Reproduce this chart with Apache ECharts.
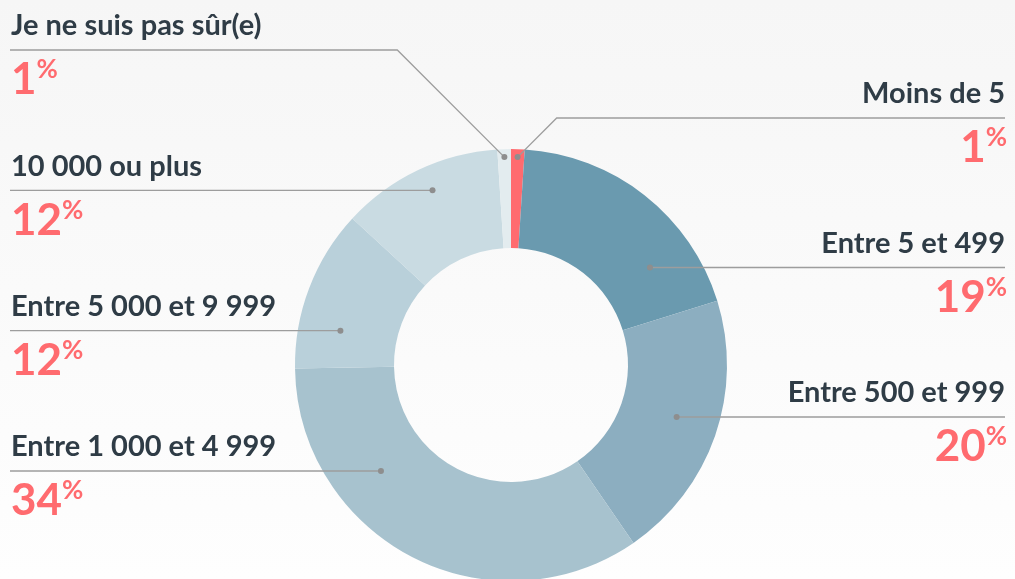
<!DOCTYPE html>
<html>
<head>
<meta charset="utf-8">
<script src="https://cdn.jsdelivr.net/npm/echarts@6/dist/echarts.min.js"></script>
<style>
  html, body { margin: 0; padding: 0; background: #f7f7f7; }
  #chart { width: 1015px; height: 579px; }
</style>
</head>
<body>
<div id="chart"></div>
<script>
// Survey answers, in clockwise order starting at 12 o'clock
const categories = [
  'Moins de 5',
  'Entre 5 et 499',
  'Entre 500 et 999',
  'Entre 1 000 et 4 999',
  'Entre 5 000 et 9 999',
  '10 000 ou plus',
  'Je ne suis pas sûr(e)'
];
const shares = [1, 19, 20, 34, 12, 12, 1];

// Styling
const sliceColors = ['#ff6b6f', '#6a9aaf', '#8caec0', '#a7c2ce', '#b9d0da', '#c9dbe2', '#e3ecef'];
const ACCENT = '#ff6b6f';
const INK = '#2f3c46';
const RULE = '#9d9d9d';
const FONT = 'Lato, "Noto Sans", sans-serif';

// Donut geometry (pixels)
const CX = 511, CY = 365, R_IN = 117, R_OUT = 216;
// Label columns
const LEFT_X = 11, RIGHT_X = 1005;
const LEFT_TOP = 50, LEFT_BOTTOM = 471;
const RIGHT_TOP = 118, RIGHT_BOTTOM = 417;
// Where the dot sits along the part of the rule that crosses its slice (0 = inner end, 1 = outer end)
const DOT_POS = 0.58;

// Angular extent of each slice, degrees clockwise from 12 o'clock
const total = shares.reduce((a, b) => a + b, 0);
const arcs = [];
let acc = 0;
shares.forEach((v) => {
  const start = acc / total * 360;
  acc += v;
  const end = acc / total * 360;
  arcs.push({ start, end, mid: (start + end) / 2 });
});

// Stack labels on each side of the ring, evenly spaced
const ruleY = new Array(shares.length);
const side = arcs.map(a => (a.mid < 180 ? 1 : -1));
const rightIdx = arcs.map((a, i) => i).filter(i => side[i] > 0).sort((a, b) => arcs[a].mid - arcs[b].mid);
const leftIdx = arcs.map((a, i) => i).filter(i => side[i] < 0).sort((a, b) => arcs[b].mid - arcs[a].mid);
function spread(idx, top, bottom) {
  const step = idx.length > 1 ? (bottom - top) / (idx.length - 1) : 0;
  idx.forEach((i, k) => { ruleY[i] = top + k * step; });
}
spread(rightIdx, RIGHT_TOP, RIGHT_BOTTOM);
spread(leftIdx, LEFT_TOP, LEFT_BOTTOM);

// Connector for each label: a horizontal rule that ends on a dot inside the slice,
// or, when the rule passes above the ring, a 45° leader down to the slice rim.
function connector(i) {
  const s = side[i];
  const y = ruleY[i];
  const dy = y - CY;
  const a = arcs[i];
  let dMin = null, dMax = null;
  for (let d = 0; d <= R_OUT; d += 0.5) {
    const r = Math.hypot(d, dy);
    if (r < R_IN || r > R_OUT) continue;
    let ang = Math.atan2(s * d, -dy) * 180 / Math.PI;
    if (ang < 0) ang += 360;
    if (ang >= a.start && ang <= a.end) {
      if (dMin === null) dMin = d;
      dMax = d;
    }
  }
  const edgeX = s > 0 ? RIGHT_X : LEFT_X - 1;
  if (dMin !== null) {
    const dot = [CX + s * (dMin + (dMax - dMin) * DOT_POS), y];
    return { dot, points: [[edgeX, y], dot] };
  }
  const rad = a.mid * Math.PI / 180;
  const rr = R_OUT - 8;
  const dot = [CX + rr * Math.sin(rad), CY - rr * Math.cos(rad)];
  const elbow = [dot[0] + s * Math.abs(dot[1] - y), y];
  return { dot, points: [[edgeX, y], elbow, dot] };
}
const connectors = shares.map((v, i) => connector(i));

function renderLabel(params, api) {
  const i = api.value(0);
  const s = side[i];
  const y = ruleY[i];
  const c = connectors[i];
  const x = s > 0 ? RIGHT_X : LEFT_X;
  const align = s > 0 ? 'right' : 'left';
  return {
    type: 'group',
    children: [
      {
        type: 'polyline',
        shape: { points: c.points },
        style: { stroke: RULE, lineWidth: 1.3, fill: null }
      },
      {
        type: 'circle',
        shape: { cx: c.dot[0], cy: c.dot[1], r: 3 },
        style: { fill: '#8e8e8e' }
      },
      {
        type: 'text',
        style: {
          text: categories[i],
          x: x, y: y - 24,
          align: align, verticalAlign: 'middle',
          fill: INK,
          fontFamily: FONT, fontWeight: 700, fontSize: 29
        }
      },
      {
        type: 'text',
        style: {
          text: '{p|' + api.value(1) + '}{s|%}',
          x: x + (s > 0 ? 2 : 0), y: y + 7,
          align: align, verticalAlign: 'top',
          rich: {
            p: { fontFamily: FONT, fontWeight: 700, fontSize: 44, lineHeight: 46, fill: ACCENT, color: ACCENT },
            s: { fontFamily: FONT, fontWeight: 700, fontSize: 26, lineHeight: 26, verticalAlign: 'top', fill: ACCENT, color: ACCENT }
          }
        }
      }
    ]
  };
}

const chart = echarts.init(document.getElementById('chart'), null, { renderer: 'canvas' });
chart.setOption({
  animation: false,
  backgroundColor: {
    type: 'linear', x: 0, y: 0, x2: 0, y2: 1,
    colorStops: [
      { offset: 0, color: '#f6f6f6' },
      { offset: 1, color: '#fefefe' }
    ]
  },
  series: [
    {
      type: 'pie',
      center: [CX, CY],
      radius: [R_IN, R_OUT],
      startAngle: 90,
      clockwise: true,
      silent: true,
      label: { show: false },
      labelLine: { show: false },
      itemStyle: { borderWidth: 0 },
      data: categories.map((name, i) => ({
        name,
        value: shares[i],
        itemStyle: { color: sliceColors[i] }
      }))
    },
    {
      type: 'custom',
      coordinateSystem: 'none',
      silent: true,
      z: 5,
      renderItem: renderLabel,
      data: shares.map((v, i) => [i, v])
    }
  ]
});
</script>
</body>
</html>
